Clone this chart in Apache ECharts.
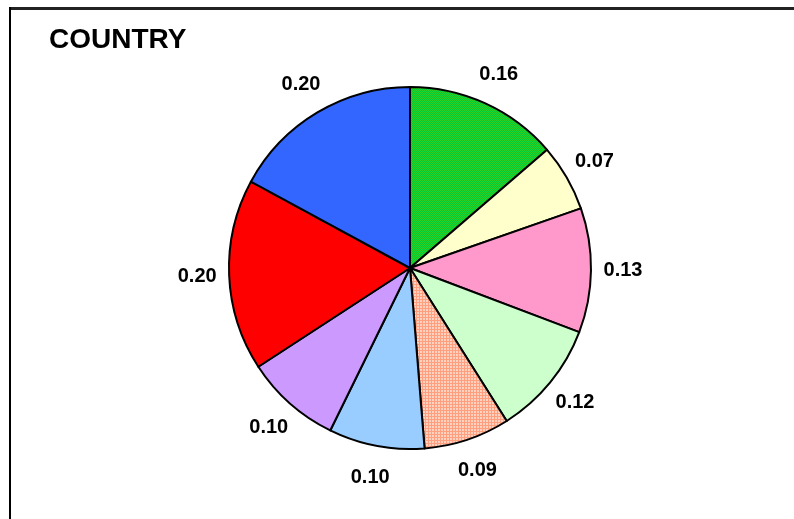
<!DOCTYPE html>
<html>
<head>
<meta charset="utf-8">
<script src="https://cdn.jsdelivr.net/npm/echarts@6/dist/echarts.min.js"></script>
<style>
  html, body { margin: 0; padding: 0; background: #fff; }
  #chart { width: 794px; height: 519px; }
</style>
</head>
<body>
<div id="chart"></div>
<script>
// Country shares, clockwise from 12 o'clock
const categories = ['C1', 'C2', 'C3', 'C4', 'C5', 'C6', 'C7', 'C8', 'C9'];
const values = [0.16, 0.07, 0.13, 0.12, 0.09, 0.10, 0.10, 0.20, 0.20];
const labels = ['0.16', '0.07', '0.13', '0.12', '0.09', '0.10', '0.10', '0.20', '0.20'];

// two-tone checker fill
function checker(a, b) {
  const c = document.createElement('canvas');
  c.width = 2; c.height = 2;
  const g = c.getContext('2d');
  g.fillStyle = a; g.fillRect(0, 0, 2, 2);
  g.fillStyle = b; g.fillRect(0, 0, 1, 1); g.fillRect(1, 1, 1, 1);
  return { image: c, repeat: 'repeat' };
}

// light squares separated by darker grid lines
function dotGrid(light, dark) {
  const c = document.createElement('canvas');
  c.width = 3; c.height = 3;
  const g = c.getContext('2d');
  g.fillStyle = light; g.fillRect(0, 0, 3, 3);
  g.fillStyle = dark; g.fillRect(2, 0, 1, 3); g.fillRect(0, 2, 3, 1);
  return { image: c, repeat: 'repeat' };
}

const fills = [
  checker('#00cc33', '#33cc22'),
  '#ffffcc',
  '#ff99cc',
  '#ccffcc',
  dotGrid('#ffd2c0', '#ff9f80'),
  '#99ccff',
  '#cc99ff',
  '#ff0000',
  '#3366ff'
];

const chart = echarts.init(document.getElementById('chart'), null, { renderer: 'canvas' });

const sliceData = values.map((v, i) => ({ name: categories[i], value: v, itemStyle: { color: fills[i] } }));
const labelData = values.map((v, i) => ({ name: categories[i], value: v, label: { formatter: labels[i] } }));

chart.setOption({
  animation: false,
  graphic: [
    { type: 'rect', shape: { x: 9, y: 7, width: 790, height: 3 }, style: { fill: '#222' } },
    { type: 'rect', shape: { x: 9, y: 7, width: 2, height: 520 }, style: { fill: '#000' } },
    { type: 'text', left: 49, top: 26, style: { text: 'COUNTRY', font: 'bold 28px "Liberation Sans", Arial, sans-serif', fill: '#000' } }
  ],
  series: [
    {
      type: 'pie',
      center: [410, 268],
      radius: [0, 181],
      startAngle: 90,
      clockwise: true,
      silent: true,
      label: { show: false },
      labelLine: { show: false },
      itemStyle: { borderColor: '#000', borderWidth: 2 },
      data: sliceData
    },
    {
      type: 'pie',
      center: [410, 268],
      radius: [198, 222],
      startAngle: 90,
      clockwise: true,
      silent: true,
      itemStyle: { color: 'rgba(0,0,0,0)', borderWidth: 0 },
      label: {
        show: true,
        position: 'inside',
        rotate: 0,
        color: '#000',
        fontFamily: '"Liberation Sans", Arial, sans-serif',
        fontWeight: 'bold',
        fontSize: 20
      },
      labelLine: { show: false },
      data: labelData
    }
  ]
});
</script>
</body>
</html>
